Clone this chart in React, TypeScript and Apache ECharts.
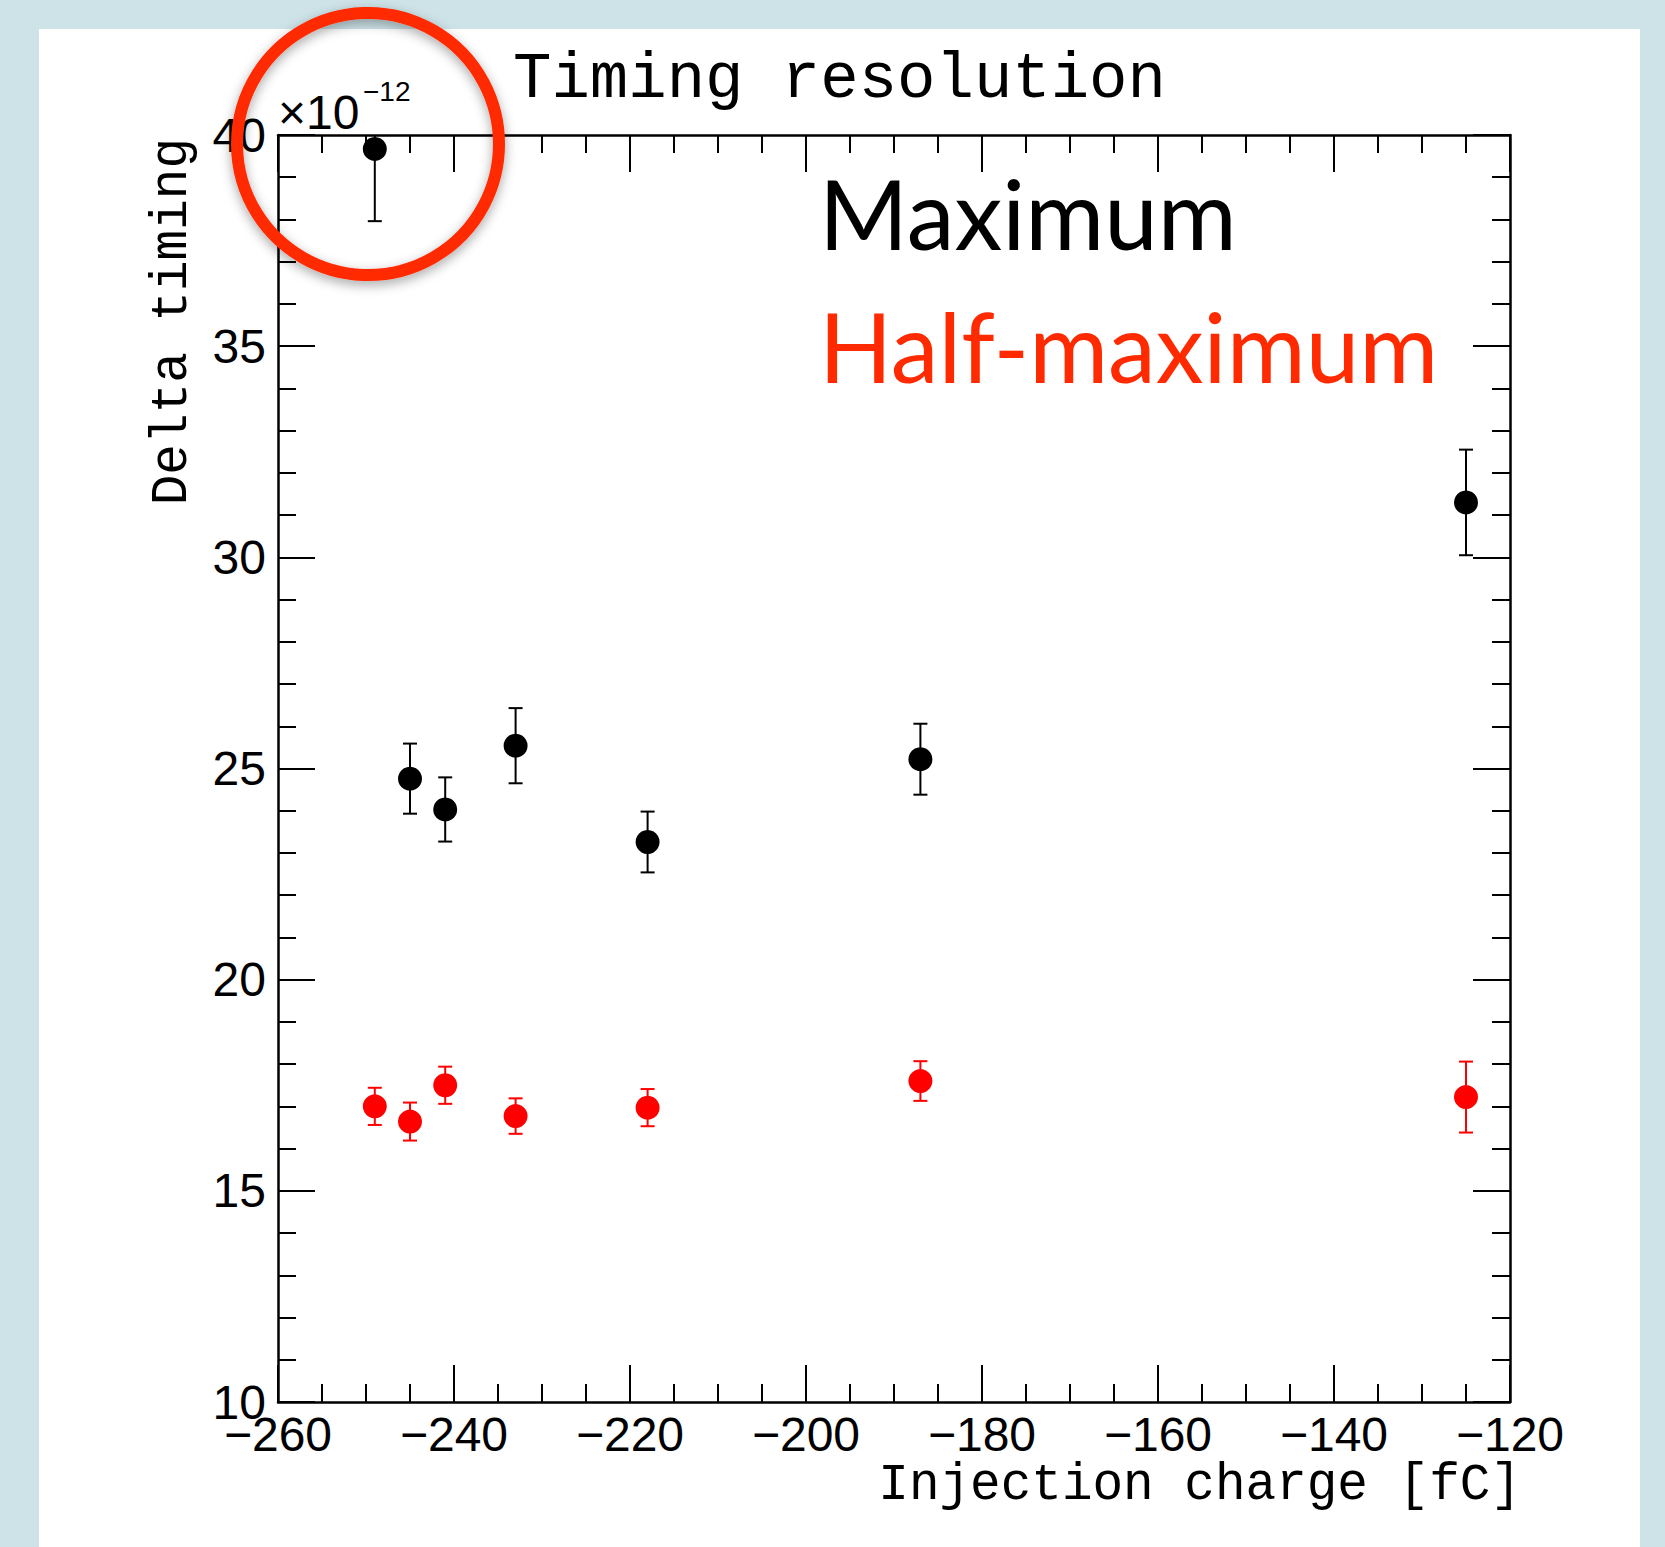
import React, { useEffect, useRef } from "react";
import * as echarts from "echarts";

const charges = [-249, -245, -241, -233, -218, -187, -125];
const maxValues = [39.67, 24.76, 24.03, 25.54, 23.26, 25.22, 31.3];
const maxErrors = [1.71, 0.83, 0.76, 0.89, 0.72, 0.84, 1.25];
const halfValues = [17.0, 16.64, 17.5, 16.77, 16.97, 17.6, 17.22];
const halfErrors = [0.44, 0.45, 0.44, 0.42, 0.44, 0.47, 0.84];

const xMin = -260;
const xMax = -120;
const xStep = 20;
const yMin = 10;
const yMax = 40;
const yStep = 5;

const titleText = "Timing resolution";
const xTitle = "Injection charge [fC]";
const yTitle = "Delta timing";
const legendMax = "Maximum";
const legendHalf = "Half-maximum";

const GRID = { left: 278, top: 135, width: 1232, height: 1267 };
const minus = (v: number) => String(v).replace("-", "\u2212");

function errorSeries(values: number[], errors: number[], color: string) {
  const data = charges.map((c, i) => [c, values[i] - errors[i], values[i] + errors[i]]);
  return {
    type: "custom",
    xAxisIndex: 0,
    yAxisIndex: 0,
    z: 3,
    data,
    renderItem: (params: any, api: any) => {
      const x = api.value(0);
      const lo = Math.max(api.value(1), yMin);
      const hiRaw = api.value(2);
      const hi = Math.min(hiRaw, yMax);
      const pLo = api.coord([x, lo]);
      const pHi = api.coord([x, hi]);
      const cap = 7;
      const style = { stroke: color, lineWidth: 2 };
      const children: any[] = [
        { type: "line", shape: { x1: pLo[0], y1: pLo[1], x2: pHi[0], y2: pHi[1] }, style },
        { type: "line", shape: { x1: pLo[0] - cap, y1: pLo[1], x2: pLo[0] + cap, y2: pLo[1] }, style },
      ];
      if (hiRaw <= yMax) {
        children.push({ type: "line", shape: { x1: pHi[0] - cap, y1: pHi[1], x2: pHi[0] + cap, y2: pHi[1] }, style });
      }
      return { type: "group", children };
    },
  };
}

export default function App() {
  const ref = useRef<HTMLDivElement>(null);
  useEffect(() => {
    if (!ref.current) return;
    const chart = echarts.init(ref.current, null, { renderer: "svg" });
    const axisCommon = {
      type: "value",
      axisLine: { show: true, onZero: false, lineStyle: { color: "#000", width: 2.5 } },
      axisTick: { show: true, inside: true, length: 37, lineStyle: { color: "#000", width: 2 } },
      minorTick: { show: true, length: 18, lineStyle: { color: "#000", width: 2 } },
      splitLine: { show: false },
    };
    const labelFont = { fontFamily: "Liberation Sans", fontSize: 48, color: "#000" };
    chart.setOption({
      animation: false,
      backgroundColor: "transparent",
      grid: { ...GRID, containLabel: false },
      xAxis: [
        {
          ...axisCommon,
          position: "bottom",
          min: xMin,
          max: xMax,
          interval: xStep,
          minorTick: { ...axisCommon.minorTick, splitNumber: 4 },
          axisLabel: { ...labelFont, margin: 8, formatter: (v: number) => minus(v) },
        },
        {
          ...axisCommon,
          position: "top",
          min: xMin,
          max: xMax,
          interval: xStep,
          minorTick: { ...axisCommon.minorTick, splitNumber: 4 },
          axisLabel: { show: false },
        },
      ],
      yAxis: [
        {
          ...axisCommon,
          position: "left",
          min: yMin,
          max: yMax,
          interval: yStep,
          minorTick: { ...axisCommon.minorTick, splitNumber: 5 },
          axisLabel: { ...labelFont, margin: 12 },
        },
        {
          ...axisCommon,
          position: "right",
          min: yMin,
          max: yMax,
          interval: yStep,
          minorTick: { ...axisCommon.minorTick, splitNumber: 5 },
          axisLabel: { show: false },
        },
      ],
      series: [
        errorSeries(maxValues, maxErrors, "#000"),
        errorSeries(halfValues, halfErrors, "#ff0000"),
        {
          type: "scatter",
          z: 4,
          symbol: "circle",
          symbolSize: 24,
          itemStyle: { color: "#000", opacity: 1 },
          data: charges.map((c, i) => [c, maxValues[i]]),
        },
        {
          type: "scatter",
          z: 4,
          symbol: "circle",
          symbolSize: 24,
          itemStyle: { color: "#ff0000", opacity: 1 },
          data: charges.map((c, i) => [c, halfValues[i]]),
        },
      ],
      graphic: [
        {
          type: "text",
          x: 513,
          y: 80,
          style: { text: titleText, font: "64px 'Liberation Mono'", fill: "#000", textAlign: "left", textVerticalAlign: "middle" },
        },
        {
          type: "text",
          x: 1521,
          y: 1485,
          style: { text: xTitle, font: "51px 'Liberation Mono'", fill: "#000", textAlign: "right", textVerticalAlign: "middle" },
        },
        {
          type: "text",
          x: 172,
          y: 138,
          rotation: Math.PI / 2,
          style: { text: yTitle, font: "51px 'Liberation Mono'", fill: "#000", textAlign: "right", textVerticalAlign: "middle" },
        },
        {
          type: "text",
          x: 278,
          y: 112,
          style: { text: "\u00d710", font: "48px 'Liberation Sans'", fill: "#000", textAlign: "left", textVerticalAlign: "middle" },
        },
        {
          type: "text",
          x: 363,
          y: 91,
          style: { text: "\u221212", font: "28px 'Liberation Sans'", fill: "#000", textAlign: "left", textVerticalAlign: "middle" },
        },
        {
          type: "text",
          x: 819,
          y: 212,
          style: { text: legendMax, font: "96px Lato", fill: "#000", textAlign: "left", textVerticalAlign: "middle" },
        },
        {
          type: "text",
          x: 819,
          y: 345,
          style: { text: legendHalf, font: "96px Lato", fill: "#ff2a00", textAlign: "left", textVerticalAlign: "middle" },
        },
        {
          type: "circle",
          z: 100,
          shape: { cx: 368, cy: 144, r: 131 },
          style: {
            fill: "none",
            stroke: "#ff2a00",
            lineWidth: 12,
            shadowBlur: 12,
            shadowColor: "rgba(0,0,0,0.35)",
            shadowOffsetY: 4,
          },
        },
      ],
    });
    return () => chart.dispose();
  }, []);

  return (
    <div style={{ position: "fixed", left: 0, top: 0, width: 1665, height: 1547, background: "#cde3e8" }}>
      <div style={{ position: "absolute", left: 39, top: 29, width: 1601, height: 1518, background: "#fff" }} />
      <div ref={ref} style={{ position: "absolute", left: 0, top: 0, width: 1665, height: 1547 }} />
    </div>
  );
}
